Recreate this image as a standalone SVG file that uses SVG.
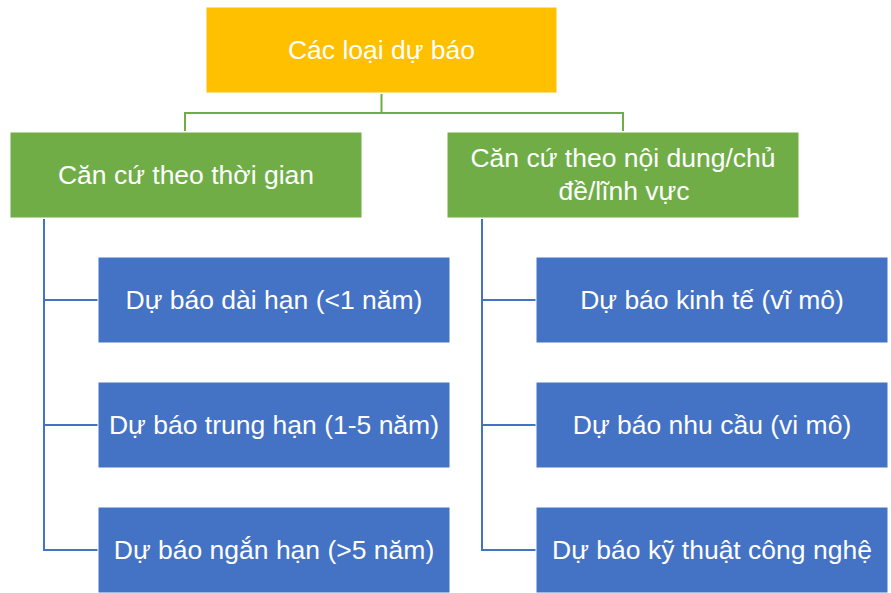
<svg xmlns="http://www.w3.org/2000/svg" width="891" height="593" viewBox="0 0 891 593">
<style>
.box{stroke:#ffffff;stroke-width:1}
.gold{fill:#FFC000}
.green{fill:#70AD47}
.blue{fill:#4472C4}
.t{font-family:"Liberation Sans","Noto Sans",Arial,sans-serif;font-size:26.5px;fill:#ffffff;text-anchor:middle}
.cg{fill:none;stroke:#70AD47;stroke-width:2}
.cb{fill:none;stroke:#4472C4;stroke-width:2}
</style>
<rect width="891" height="593" fill="#ffffff"/>
<g id="connectors">
<path class="cg" d="M381.5,94 V113 M185,113 H623 M185,112 V131 M623,112 V131"/>
<path class="cb" d="M44,219 V551 M43,300 H98 M43,425 H98 M43,550 H98"/>
<path class="cb" d="M482,219 V551 M481,300 H536 M481,425 H536 M481,550 H536"/>
</g>
<g id="root"><rect class="box gold" x="206" y="7" width="351" height="86"/><text class="t" x="381.5" y="59">Các loại dự báo</text></g>
<g id="time"><rect class="box green" x="10" y="132" width="352" height="86"/><text class="t" x="186" y="184">Căn cứ theo thời gian</text></g>
<g id="content"><rect class="box green" x="447" y="132" width="352" height="86"/><text class="t" x="623" y="167">Căn cứ theo nội dung/chủ</text><text class="t" x="624" y="200">đề/lĩnh vực</text></g>
<g id="long"><rect class="box blue" x="98" y="257" width="352" height="86"/><text class="t" x="274" y="309">Dự báo dài hạn (&lt;1 năm)</text></g>
<g id="mid"><rect class="box blue" x="98" y="382" width="352" height="86"/><text class="t" x="274" y="434">Dự báo trung hạn (1-5 năm)</text></g>
<g id="short"><rect class="box blue" x="98" y="507" width="352" height="86"/><text class="t" x="274" y="559">Dự báo ngắn hạn (&gt;5 năm)</text></g>
<g id="econ"><rect class="box blue" x="536" y="257" width="352" height="86"/><text class="t" x="712" y="309">Dự báo kinh tế (vĩ mô)</text></g>
<g id="demand"><rect class="box blue" x="536" y="382" width="352" height="86"/><text class="t" x="712" y="434">Dự báo nhu cầu (vi mô)</text></g>
<g id="tech"><rect class="box blue" x="536" y="507" width="352" height="86"/><text class="t" x="712" y="559">Dự báo kỹ thuật công nghệ</text></g>
</svg>
